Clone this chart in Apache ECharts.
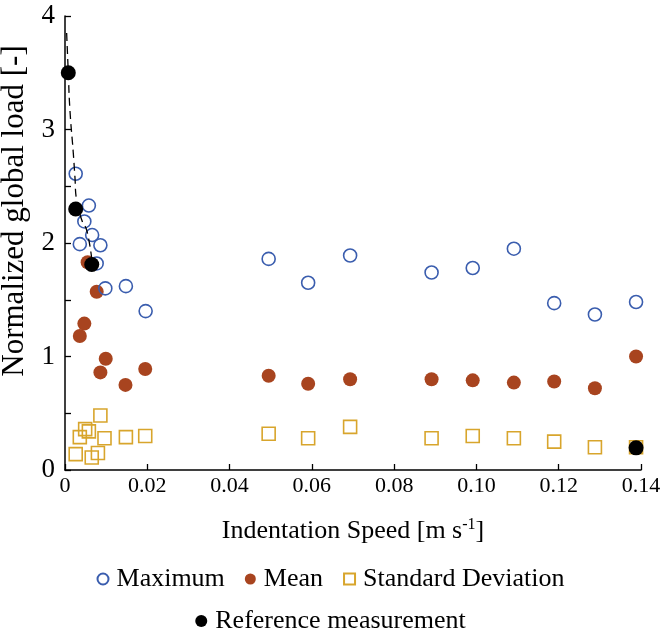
<!DOCTYPE html>
<html>
<head>
<meta charset="utf-8">
<script src="https://cdn.jsdelivr.net/npm/echarts@6/dist/echarts.min.js"></script>
<style>html,body{margin:0;padding:0;background:#fff;}#c{width:661px;height:635px;}</style>
</head>
<body>
<div id="c"></div>
<script>
// Data
var speedMax = [0.0026,0.0036,0.0047,0.0058,0.0066,0.0077,0.0086,0.0098,0.0148,0.0196,0.0495,0.0591,0.0693,0.0891,0.0991,0.1091,0.1189,0.1288,0.1388];
var maxVals  = [2.61,1.99,2.19,2.33,2.07,1.82,1.98,1.60,1.62,1.40,1.86,1.65,1.89,1.74,1.78,1.95,1.47,1.37,1.48];

var speedMean = [0.0036,0.0047,0.0055,0.0077,0.0086,0.0099,0.0147,0.0195,0.0495,0.0591,0.0693,0.0891,0.0991,0.1091,0.1189,0.1288,0.1388];
var meanVals  = [1.18,1.29,1.83,1.57,0.86,0.98,0.75,0.89,0.83,0.76,0.80,0.80,0.79,0.77,0.78,0.72,1.00];

var speedStd = [0.0026,0.0036,0.0049,0.0058,0.0065,0.0080,0.0086,0.0096,0.0148,0.0195,0.0495,0.0591,0.0693,0.0891,0.0991,0.1091,0.1189,0.1288,0.1388];
var stdVals  = [0.14,0.29,0.36,0.34,0.11,0.15,0.48,0.28,0.29,0.30,0.32,0.28,0.38,0.28,0.30,0.28,0.25,0.20,0.20];

var refSpeed = [0.0008,0.0026,0.0065,0.1388];
var refVals  = [3.50,2.30,1.81,0.195];

var fitSpeed = [0.0004,0.0008,0.0012,0.0020,0.0024,0.0028,0.0041,0.0053,0.0066];
var fitVals  = [3.85,3.50,3.17,2.80,2.59,2.38,2.20,2.11,1.83];

var xTicks = [0,0.02,0.04,0.06,0.08,0.10,0.12,0.14];
var yTicks = [0,1,2,3,4];

function pairs(xs, ys){ return xs.map(function(x,i){ return [x, ys[i]]; }); }

var FONT = 'Liberation Serif';
var BLUE = '#3A5DAE', RED = '#A8441F', GOLD = '#D8A52C';

var chart = echarts.init(document.getElementById('c'));
chart.setOption({
  animation: false,
  backgroundColor: '#fff',
  textStyle: {fontFamily: FONT, color: '#000'},
  grid: {left: 65, right: 20, top: 16, bottom: 165, containLabel: false, outerBoundsMode: 'none'},
  xAxis: {
    type: 'value', min: 0, max: 0.14, interval: 0.02,
    name: 'Indentation Speed [m s{sup|-1}]',
    nameLocation: 'middle', nameGap: 47,
    nameTextStyle: {fontFamily: FONT, fontSize: 26, color: '#000',
      rich: {sup: {fontFamily: FONT, fontSize: 16, color: '#000', padding: [0,0,12,0]}}},
    axisLine: {lineStyle: {color: '#000', width: 1.5}},
    axisTick: {inside: true, length: 6, lineStyle: {color: '#000', width: 1.3}},
    axisLabel: {fontFamily: FONT, fontSize: 22, color: '#000', margin: 5,
      formatter: function(v){ return v === 0 ? '0' : v.toFixed(2); }},
    splitLine: {show: false}
  },
  yAxis: {
    type: 'value', min: 0, max: 4, interval: 0.5,
    name: 'Normalized global load [-]',
    nameLocation: 'middle', nameGap: 31, nameRotate: 90,
    nameTextStyle: {fontFamily: FONT, fontSize: 31, color: '#000', padding: [0,0,0,64]},
    axisLine: {show: true, lineStyle: {color: '#000', width: 1.5}},
    axisTick: {inside: true, length: 6, lineStyle: {color: '#000', width: 1.3}},
    axisLabel: {fontFamily: FONT, fontSize: 27, color: '#000', margin: 10,
      formatter: function(v){ return yTicks.indexOf(v) >= 0 ? String(v) : ''; }},
    splitLine: {show: false}
  },
  legend: [{
    data: ['Maximum','Mean','Standard Deviation'],
    left: 'center', top: 561, itemWidth: 11, itemHeight: 11, itemGap: 20,
    textStyle: {fontFamily: FONT, fontSize: 26, color: '#000', padding: [0,0,0,3]}
  },{
    data: ['Reference measurement'],
    left: 'center', top: 603, itemWidth: 12, itemHeight: 12,
    textStyle: {fontFamily: FONT, fontSize: 26, color: '#000', padding: [0,0,0,3]}
  }],
  series: [
    {name: 'Standard Deviation', type: 'scatter', symbol: 'rect', symbolSize: 13,
     data: pairs(speedStd, stdVals),
     itemStyle: {color: 'rgba(255,255,255,0)', borderColor: GOLD, borderWidth: 1.6, opacity: 1}},
    {name: 'Mean', type: 'scatter', symbol: 'circle', symbolSize: 14,
     data: pairs(speedMean, meanVals),
     itemStyle: {color: RED, opacity: 1}},
    {name: 'Maximum', type: 'scatter', symbol: 'circle', symbolSize: 13,
     data: pairs(speedMax, maxVals),
     itemStyle: {color: 'rgba(255,255,255,0)', borderColor: BLUE, borderWidth: 1.6, opacity: 1}},
    {name: 'fit', type: 'line', smooth: true, showSymbol: false, symbol: 'none',
     data: pairs(fitSpeed, fitVals),
     lineStyle: {color: '#000', width: 1.3, type: [8,5]}},
    {name: 'Reference measurement', type: 'scatter', symbol: 'circle', symbolSize: 15,
     data: pairs(refSpeed, refVals),
     itemStyle: {color: '#000', opacity: 1}}
  ]
});
</script>
</body>
</html>
